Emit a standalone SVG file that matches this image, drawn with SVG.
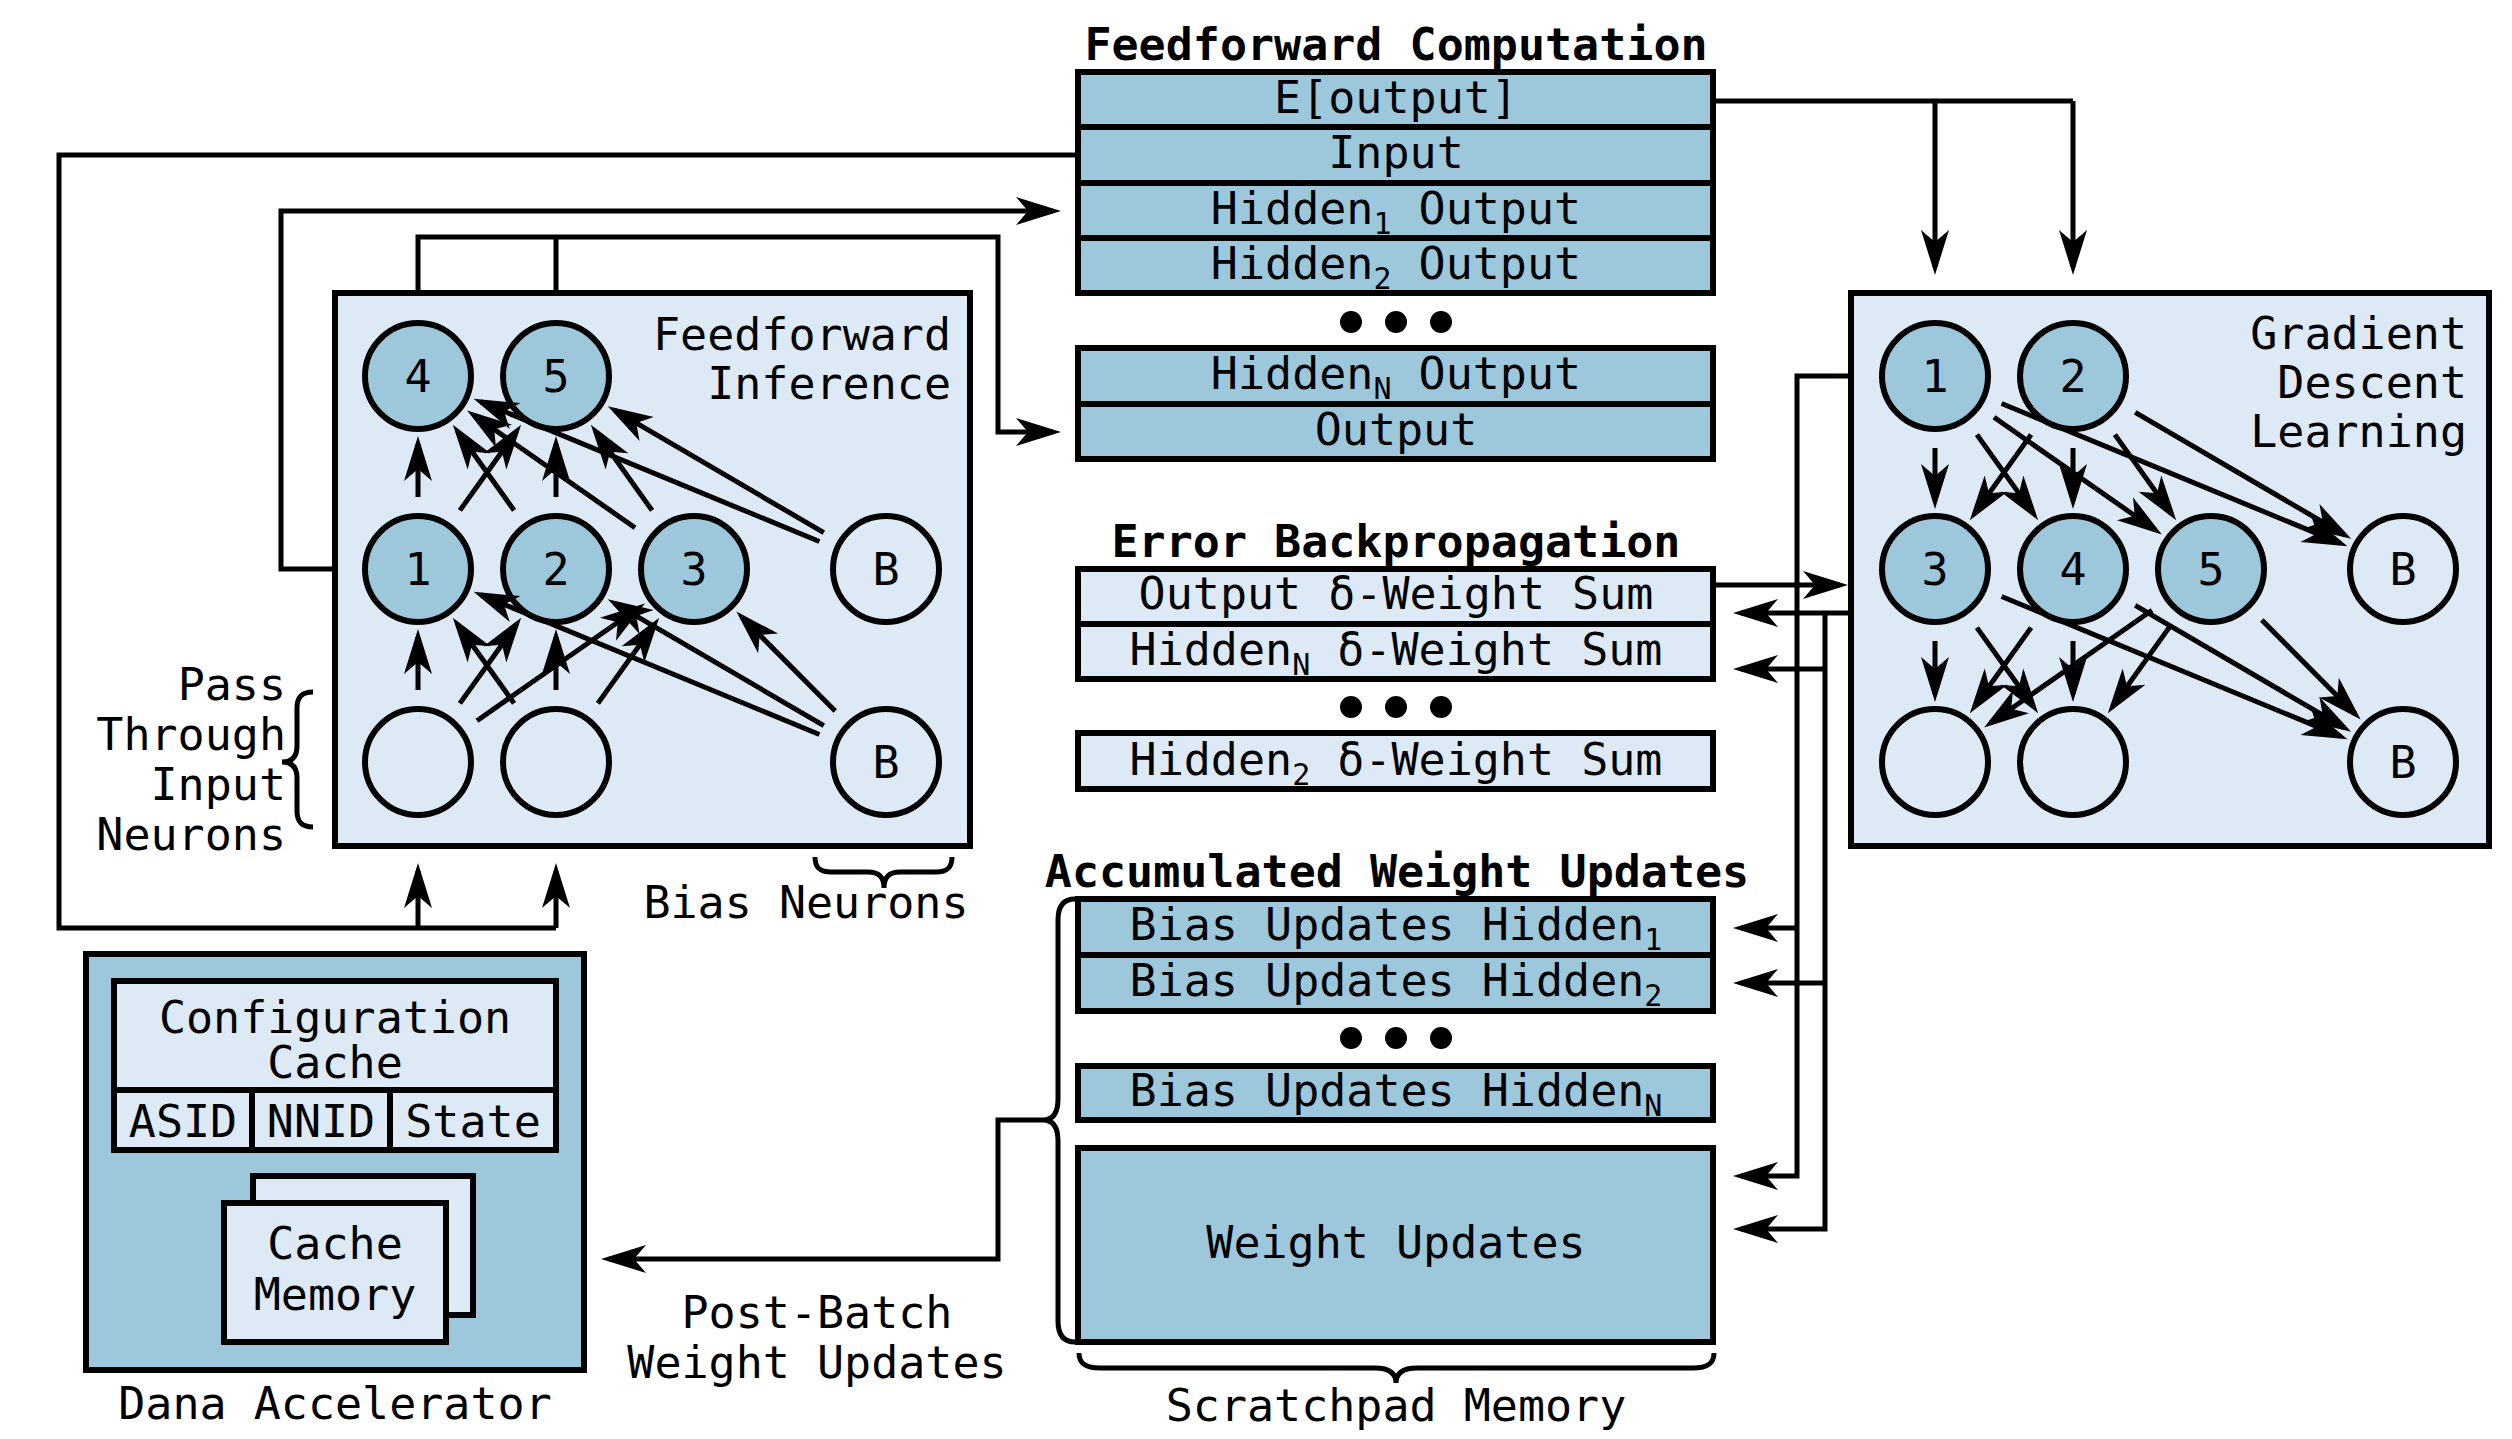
<svg xmlns="http://www.w3.org/2000/svg" width="2512" height="1439" viewBox="0 0 2512 1439">
  <style>
    text { font-family: "DejaVu Sans Mono", "Liberation Mono", monospace; font-size: 45px; fill: #000; }
    .b { font-weight: bold; }
    .m { text-anchor: middle; }
    .e { text-anchor: end; }
    .sub { font-size: 30px; }
    .dark { fill: #9dc8dc; stroke: #000; stroke-width: 6; }
    .light { fill: #dde9f5; stroke: #000; stroke-width: 6; }
    .wire { fill: none; stroke: #000; stroke-width: 5; }
    .arr { marker-end: url(#head); }
    .brace { fill: none; stroke: #000; stroke-width: 5; }
    .dot { fill: #000; }
  </style>
  <defs>
    <marker id="head" markerUnits="userSpaceOnUse" viewBox="-50 -20 60 40" markerWidth="60" markerHeight="40" refX="0" refY="0" orient="auto">
      <path d="M8,0 L-37,-14 L-25,0 L-37,14 Z" fill="#000"/>
    </marker>
  </defs>
  <rect width="2512" height="1439" fill="#fff"/>

  <!-- Feedforward computation buffers -->
  <g id="ff-computation">
    <text class="b m" x="1396" y="60">Feedforward Computation</text>
    <rect class="dark" x="1078" y="72" width="635" height="55"/>
    <rect class="dark" x="1078" y="127" width="635" height="56"/>
    <rect class="dark" x="1078" y="183" width="635" height="55"/>
    <rect class="dark" x="1078" y="238" width="635" height="55"/>
    <text class="m" x="1396" y="113">E[output]</text>
    <text class="m" x="1396" y="168">Input</text>
    <text class="m" x="1396" y="224">Hidden<tspan class="sub" dy="10">1</tspan><tspan dy="-10"> Output</tspan></text>
    <text class="m" x="1396" y="279">Hidden<tspan class="sub" dy="10">2</tspan><tspan dy="-10"> Output</tspan></text>
    <circle class="dot" cx="1351" cy="322" r="11"/>
    <circle class="dot" cx="1396" cy="322" r="11"/>
    <circle class="dot" cx="1441" cy="322" r="11"/>
    <rect class="dark" x="1078" y="348" width="635" height="56"/>
    <rect class="dark" x="1078" y="404" width="635" height="55"/>
    <text class="m" x="1396" y="389">Hidden<tspan class="sub" dy="10">N</tspan><tspan dy="-10"> Output</tspan></text>
    <text class="m" x="1396" y="445">Output</text>
  </g>

  <!-- Error backpropagation buffers -->
  <g id="error-backprop">
    <text class="b m" x="1396" y="557">Error Backpropagation</text>
    <rect class="light" x="1078" y="569" width="635" height="55"/>
    <rect class="light" x="1078" y="624" width="635" height="55"/>
    <text class="m" x="1396" y="609">Output δ-Weight Sum</text>
    <text class="m" x="1396" y="665">Hidden<tspan class="sub" dy="10">N</tspan><tspan dy="-10"> δ-Weight Sum</tspan></text>
    <circle class="dot" cx="1351" cy="707" r="11"/>
    <circle class="dot" cx="1396" cy="707" r="11"/>
    <circle class="dot" cx="1441" cy="707" r="11"/>
    <rect class="light" x="1078" y="733" width="635" height="56"/>
    <text class="m" x="1396" y="775">Hidden<tspan class="sub" dy="10">2</tspan><tspan dy="-10"> δ-Weight Sum</tspan></text>
  </g>

  <!-- Accumulated weight updates (scratchpad) -->
  <g id="weight-updates">
    <text class="b m" x="1397" y="887">Accumulated Weight Updates</text>
    <rect class="dark" x="1078" y="899" width="635" height="56"/>
    <rect class="dark" x="1078" y="955" width="635" height="56"/>
    <text class="m" x="1396" y="940">Bias Updates Hidden<tspan class="sub" dy="10">1</tspan></text>
    <text class="m" x="1396" y="996">Bias Updates Hidden<tspan class="sub" dy="10">2</tspan></text>
    <circle class="dot" cx="1351" cy="1038" r="11"/>
    <circle class="dot" cx="1396" cy="1038" r="11"/>
    <circle class="dot" cx="1441" cy="1038" r="11"/>
    <rect class="dark" x="1078" y="1066" width="635" height="54"/>
    <text class="m" x="1396" y="1106">Bias Updates Hidden<tspan class="sub" dy="10">N</tspan></text>
    <rect class="dark" x="1078" y="1148" width="635" height="194"/>
    <text class="m" x="1396" y="1258">Weight Updates</text>
    <path class="brace" d="M1079,1353 C1079,1364 1086,1368 1100,1368 L1375,1368 C1389,1368 1396,1373 1396,1383 C1396,1373 1403,1368 1417,1368 L1693,1368 C1707,1368 1714,1364 1714,1353"/>
    <path class="brace" d="M1075,899 C1064,899 1058,906 1058,920 L1058,1099 C1058,1113 1053,1120 1043,1120 C1053,1120 1058,1127 1058,1141 L1058,1321 C1058,1335 1064,1342 1075,1342"/>
    <text class="m" x="1396" y="1421">Scratchpad Memory</text>
  </g>

  <!-- Feedforward inference network -->
  <g id="ff-inference">
    <rect class="light" x="335" y="293" width="635" height="553"/>
    <text class="e" x="951" y="350">Feedforward</text>
    <text class="e" x="951" y="399">Inference</text>
    <circle class="dark" cx="418" cy="376" r="53"/>
    <circle class="dark" cx="556" cy="376" r="53"/>
    <circle class="dark" cx="418" cy="569" r="53"/>
    <circle class="dark" cx="556" cy="569" r="53"/>
    <circle class="dark" cx="694" cy="569" r="53"/>
    <circle class="light" cx="886" cy="569" r="53"/>
    <circle class="light" cx="418" cy="762" r="53"/>
    <circle class="light" cx="556" cy="762" r="53"/>
    <circle class="light" cx="886" cy="762" r="53"/>
    <text class="m" x="418" y="392">4</text>
    <text class="m" x="556" y="392">5</text>
    <text class="m" x="418" y="585">1</text>
    <text class="m" x="556" y="585">2</text>
    <text class="m" x="694" y="585">3</text>
    <text class="m" x="886" y="585">B</text>
    <text class="m" x="886" y="778">B</text>
  </g>

  <!-- Gradient descent learning network -->
  <g id="gd-learning">
    <rect class="light" x="1851" y="293" width="638" height="553"/>
    <text class="e" x="2467" y="349">Gradient</text>
    <text class="e" x="2467" y="398">Descent</text>
    <text class="e" x="2467" y="447">Learning</text>
    <circle class="dark" cx="1935" cy="376" r="53"/>
    <circle class="dark" cx="2073" cy="376" r="53"/>
    <circle class="dark" cx="1935" cy="569" r="53"/>
    <circle class="dark" cx="2073" cy="569" r="53"/>
    <circle class="dark" cx="2211" cy="569" r="53"/>
    <circle class="light" cx="2403" cy="569" r="53"/>
    <circle class="light" cx="1935" cy="762" r="53"/>
    <circle class="light" cx="2073" cy="762" r="53"/>
    <circle class="light" cx="2403" cy="762" r="53"/>
    <text class="m" x="1935" y="392">1</text>
    <text class="m" x="2073" y="392">2</text>
    <text class="m" x="1935" y="585">3</text>
    <text class="m" x="2073" y="585">4</text>
    <text class="m" x="2211" y="585">5</text>
    <text class="m" x="2403" y="585">B</text>
    <text class="m" x="2403" y="778">B</text>
  </g>

  <!-- Dana accelerator -->
  <g id="dana">
    <rect class="dark" x="86" y="954" width="498" height="416"/>
    <rect class="light" x="114" y="981" width="442" height="169"/>
    <line x1="114" y1="1090" x2="556" y2="1090" stroke="#000" stroke-width="6"/>
    <line x1="252" y1="1090" x2="252" y2="1150" stroke="#000" stroke-width="6"/>
    <line x1="390" y1="1090" x2="390" y2="1150" stroke="#000" stroke-width="6"/>
    <text class="m" x="335" y="1033">Configuration</text>
    <text class="m" x="335" y="1078">Cache</text>
    <text class="m" x="183" y="1137">ASID</text>
    <text class="m" x="321" y="1137">NNID</text>
    <text class="m" x="473" y="1137">State</text>
    <rect class="light" x="253" y="1176" width="220" height="139"/>
    <rect class="light" x="224" y="1203" width="222" height="139"/>
    <text class="m" x="335" y="1259">Cache</text>
    <text class="m" x="335" y="1310">Memory</text>
    <text class="m" x="335" y="1419">Dana Accelerator</text>
  </g>

  <!-- Side labels -->
  <g id="labels">
    <text class="e" x="286" y="700">Pass</text>
    <text class="e" x="286" y="750">Through</text>
    <text class="e" x="286" y="800">Input</text>
    <text class="e" x="286" y="850">Neurons</text>
    <path class="brace" d="M313,692 C302,692 297,697 297,708 L297,746 C297,757 292,762 282,762 C292,762 297,767 297,778 L297,811 C297,822 302,827 313,827"/>
    <path class="brace" d="M815,857 C815,868 820,872 831,872 L868,872 C879,872 884,877 884,888 C884,877 889,872 900,872 L936,872 C947,872 952,868 952,857"/>
    <text class="m" x="806" y="918">Bias Neurons</text>
    <text class="m" x="817" y="1328">Post-Batch</text>
    <text class="m" x="817" y="1378">Weight Updates</text>
  </g>

  <!-- Connectors -->
  <g id="connectors">
    <!-- input buffer to pass-through neurons -->
    <path class="wire" d="M1078,155 H59 V928 H556"/>
    <path class="wire arr" d="M418,928 V871"/>
    <path class="wire arr" d="M556,928 V871"/>
    <!-- hidden layer 1 outputs back to buffer -->
    <path class="wire arr" d="M335,569 H281 V211 H1053"/>
    <!-- output layer to output buffer -->
    <path class="wire arr" d="M418,293 V237 H998 V432 H1053"/>
    <path class="wire" d="M556,293 V237"/>
    <!-- expected output to gradient descent -->
    <path class="wire" d="M1713,101 H2073"/>
    <path class="wire arr" d="M1935,101 V267"/>
    <path class="wire arr" d="M2073,101 V267"/>
    <!-- output delta-weight sum into learning block -->
    <path class="wire arr" d="M1713,585 H1840"/>
    <!-- learning block back to scratchpad -->
    <path class="wire arr" d="M1851,376 H1797 V1176 H1741"/>
    <path class="wire arr" d="M1797,928 H1741"/>
    <path class="wire arr" d="M1851,613 H1741"/>
    <path class="wire arr" d="M1825,613 V1229 H1741"/>
    <path class="wire arr" d="M1825,669 H1741"/>
    <path class="wire arr" d="M1825,983 H1741"/>
    <!-- post-batch weight updates to accelerator -->
    <path class="wire arr" d="M1043,1120 H998 V1259 H609"/>

    <!-- feedforward inference edges: inputs to hidden -->
    <path class="wire arr" d="M418,690 L418,637"/>
    <path class="wire arr" d="M459.9,703.4 L516.5,624.3"/>
    <path class="wire arr" d="M477,720.7 L638.3,608"/>
    <path class="wire arr" d="M514.1,703.4 L457.5,624.3"/>
    <path class="wire arr" d="M556,690 L556,637"/>
    <path class="wire arr" d="M597.9,703.4 L654.5,624.3"/>
    <path class="wire arr" d="M819.4,734.5 L480.9,594.9"/>
    <path class="wire arr" d="M823.8,725.7 L614.7,603.3"/>
    <path class="wire arr" d="M835.2,711 L742,617.2"/>
    <!-- hidden to outputs -->
    <path class="wire arr" d="M418,497 L418,444"/>
    <path class="wire arr" d="M459.9,510.4 L516.5,431.3"/>
    <path class="wire arr" d="M514.1,510.4 L457.5,431.3"/>
    <path class="wire arr" d="M556,497 L556,444"/>
    <path class="wire arr" d="M635,527.7 L473.7,415"/>
    <path class="wire arr" d="M652.1,510.4 L595.5,431.3"/>
    <path class="wire arr" d="M819.4,541.5 L480.9,401.9"/>
    <path class="wire arr" d="M823.8,532.7 L614.7,410.3"/>

    <!-- gradient descent edges: outputs to hidden -->
    <path class="wire arr" d="M1935,448 L1935,501"/>
    <path class="wire arr" d="M1976.9,434.6 L2033.5,513.7"/>
    <path class="wire arr" d="M1994,417.3 L2155.3,530"/>
    <path class="wire arr" d="M2001.6,403.5 L2340.1,543.1"/>
    <path class="wire arr" d="M2031.1,434.6 L1974.5,513.7"/>
    <path class="wire arr" d="M2073,448 L2073,501"/>
    <path class="wire arr" d="M2114.9,434.6 L2171.5,513.7"/>
    <path class="wire arr" d="M2135.2,412.3 L2344.3,534.7"/>
    <!-- hidden to inputs -->
    <path class="wire arr" d="M1935,641 L1935,694"/>
    <path class="wire arr" d="M1976.9,627.6 L2033.5,706.7"/>
    <path class="wire arr" d="M2001.6,596.5 L2340.1,736.1"/>
    <path class="wire arr" d="M2031.1,627.6 L1974.5,706.7"/>
    <path class="wire arr" d="M2073,641 L2073,694"/>
    <path class="wire arr" d="M2135.2,605.3 L2344.3,727.7"/>
    <path class="wire arr" d="M2152,610.3 L1990.7,723"/>
    <path class="wire arr" d="M2169.1,627.6 L2112.5,706.7"/>
    <path class="wire arr" d="M2261.8,620 L2355,713.8"/>
  </g>
</svg>
